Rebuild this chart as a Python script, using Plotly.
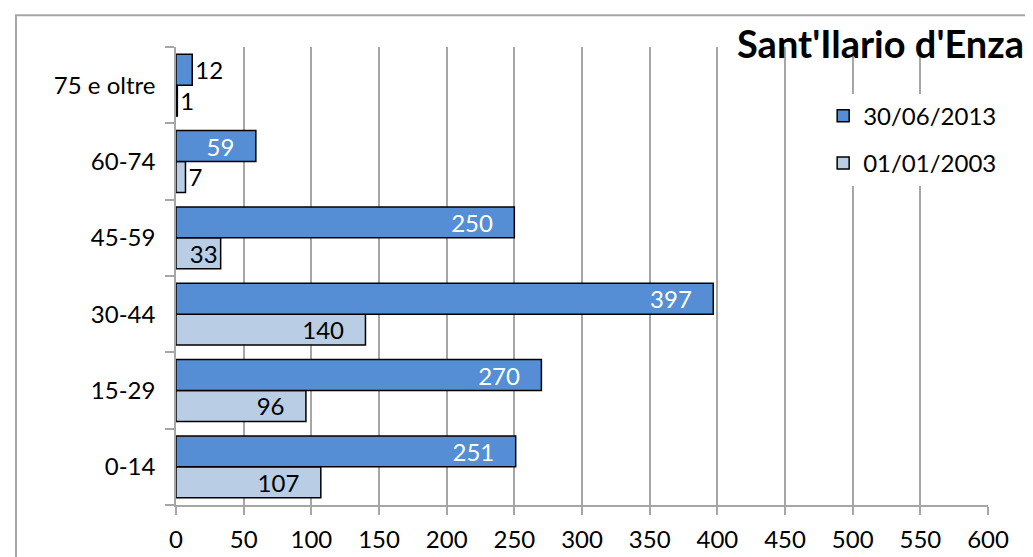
import plotly.graph_objects as go

categories = ["0-14", "15-29", "30-44", "45-59", "60-74", "75 e oltre"]
values_2013 = [251, 270, 397, 250, 59, 12]
values_2003 = [107, 96, 140, 33, 7, 1]
x_ticks = [0, 50, 100, 150, 200, 250, 300, 350, 400, 450, 500, 550, 600]

font = "Lato, 'Noto Sans', sans-serif"
pad = "\u00a0\u00a0\u00a0"


def labels(vals):
    return [f"{v}{pad}" if v >= 50 else str(v) for v in vals]


def positions(vals):
    return ["inside" if v > 20 else "outside" for v in vals]


fig = go.Figure()

# 2003 added first so it sits below within each group
fig.add_trace(go.Bar(
    name="01/01/2003", y=categories, x=values_2003, orientation="h",
    marker=dict(color="#B9CDE5", line=dict(color="black", width=1.5)),
    text=labels(values_2003), textposition=positions(values_2003),
    textangle=0, insidetextanchor="end", constraintext="none",
    insidetextfont=dict(color="black", size=24, family=font),
    outsidetextfont=dict(color="black", size=24, family=font),
    legendgroup="b", legendrank=2,
))
fig.add_trace(go.Bar(
    name="30/06/2013", y=categories, x=values_2013, orientation="h",
    marker=dict(color="#558ED5", line=dict(color="black", width=1.5)),
    text=labels(values_2013), textposition=positions(values_2013),
    textangle=0, insidetextanchor="end", constraintext="none",
    insidetextfont=dict(color="white", size=24, family=font),
    outsidetextfont=dict(color="black", size=24, family=font),
    legendgroup="a", legendrank=1,
))

fig.update_layout(
    width=1033, height=557,
    paper_bgcolor="white", plot_bgcolor="white",
    margin=dict(l=168, r=53, t=39, b=58),
    barmode="group", bargap=0.19, bargroupgap=0,
    font=dict(family=font, size=24, color="black"),
    title=dict(text="<b>Sant'Ilario d'Enza</b>", font=dict(size=38, color="black"),
               xref="container", yref="container", x=729 / 1033, xanchor="left",
               y=1 - 37 / 557, yanchor="middle"),
    legend=dict(x=0.797, y=0.898, xanchor="left", yanchor="top",
                bgcolor="white", traceorder="grouped", tracegroupgap=13,
                font=dict(size=24)),
    xaxis=dict(range=[0, 600], tickvals=x_ticks, showgrid=True,
               gridcolor="#A6A6A6", gridwidth=1.5,
               showline=True, linecolor="#A6A6A6", linewidth=1.5,
               ticks="outside", ticklen=8, tickcolor="#A6A6A6", tickwidth=1.5,
               ticklabelstandoff=4, zeroline=False, fixedrange=True),
    yaxis=dict(categoryorder="array", categoryarray=categories,
               showgrid=False, showline=True, linecolor="#A6A6A6", linewidth=1.5,
               ticks="outside", ticklen=9, tickcolor="#A6A6A6", tickwidth=1.5,
               tickson="boundaries", ticklabelstandoff=14, fixedrange=True),
)

# chart frame, partly off-screen like the reference crop
fig.add_shape(type="rect", xref="paper", yref="paper",
              x0=(8 - 168) / 812, x1=2, y0=-1, y1=(499 - 7) / 460,
              line=dict(color="#A6A6A6", width=2), layer="below")

fig.write_html("out.html")
